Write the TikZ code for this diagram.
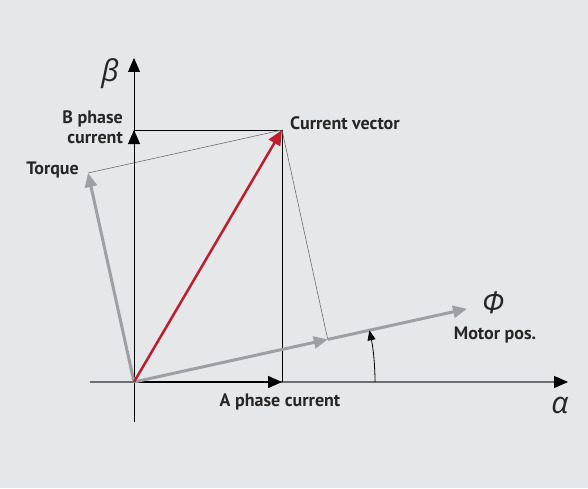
\documentclass[tikz,border=0pt]{standalone}
\usepackage{fontspec}
\setsansfont{PT Sans}
\newfontfamily\greekfont{Open Sans}
\usetikzlibrary{arrows.meta}
\definecolor{bggray}{HTML}{E6E7E8}
\definecolor{vecgray}{HTML}{9D9FA2}
\definecolor{axgray}{HTML}{6D6E71}
\definecolor{vecred}{HTML}{BE1E2D}
\begin{document}
\begin{tikzpicture}[x=1pt,y=1pt,
  tip/.style={-{Triangle[length=14pt,width=12pt]}},
  vec/.style={tip,line width=3pt,vecgray},
  thin/.style={line width=0.6pt,axgray},
  lbl/.style={font=\sffamily\bfseries\fontsize{18}{20}\selectfont,text=black!85,inner sep=0pt},
  greek/.style={font=\greekfont\itshape\fontsize{30}{30}\selectfont,text=black!85,inner sep=0pt}]
\useasboundingbox (-134,-106) rectangle (454,382);
\fill[bggray] (-134,-106) rectangle (454,382);

\coordinate (O) at (0,0);
\coordinate (A) at (148,0);
\coordinate (B) at (0,252);
\coordinate (C) at (148,252);
\coordinate (T) at (102.4:214);
\coordinate (P) at (12.4:198.4);
\coordinate (M) at (12.4:341);
\coordinate (xl) at (-44,0);
\coordinate (xr) at (434,0);
\coordinate (yb) at (0,-40);
\coordinate (yt) at (0,324);
\coordinate (r0) at (0:241);

% axes
\draw[line width=1.2pt,axgray,-{Triangle[length=14pt,width=12pt,black]}] (xl) -- (xr);
\draw[line width=0.8pt,tip] (yb) -- (yt);
\node[greek] (alpha) at (426,-23) {α};
\node[greek] (beta) at (-24,308) {β};

% projections
\draw[line width=0.8pt] (B) -- (C) -- (A);
\draw[thin] (T) -- (C) -- (P);

% phase currents
\draw[line width=1.4pt,tip] (O) -- (A);
\draw[line width=0.8pt,tip] (O) -- (B);

% vectors
\draw[vec] (O) -- (T);
\draw[vec] (O) -- (P);
\draw[vec] (P) -- (M);
\draw[tip,line width=2.5pt,vecred,-{Triangle[length=15pt,width=13pt]}] (O) -- (C);

% angle
\draw[line width=0.8pt,-{Triangle[length=10pt,width=8pt]}] (r0) arc[start angle=0,end angle=12.4,radius=241];

\node[lbl,anchor=west] (cur) at (156,259) {Current vector};
\node[lbl,anchor=east] (torque) at (-55,212) {Torque};
\node[lbl,anchor=east,align=right] (bph) at (-11,255) {B phase\\current};
\node[lbl] (aph) at (146,-20) {A phase current};
\node[greek] (phi) at (359,79) {Φ};
\node[lbl] (motor) at (361,47) {Motor pos.};
\end{tikzpicture}
\end{document}
